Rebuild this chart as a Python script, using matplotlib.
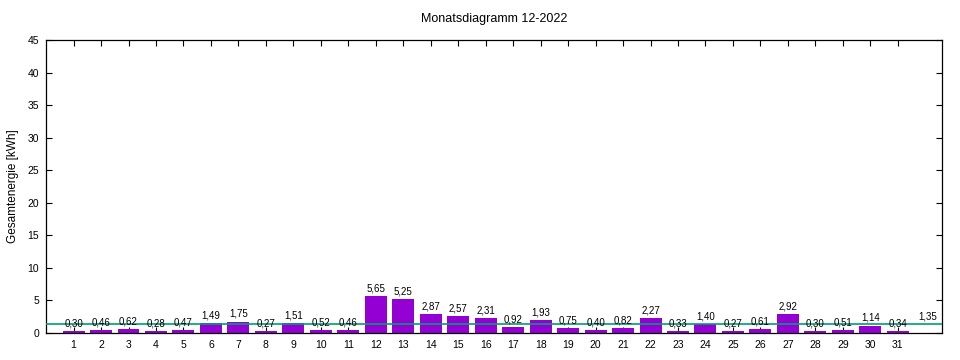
import matplotlib

matplotlib.use("Agg")
import matplotlib.pyplot as plt


TITLE = "Monatsdiagramm 12-2022"
Y_LABEL = "Gesamtenergie [kWh]"
DAYS = list(range(1, 32))
ENERGY = [
    0.30, 0.46, 0.62, 0.28, 0.47, 1.49, 1.75, 0.27, 1.51, 0.52, 0.46,
    5.65, 5.25, 2.87, 2.57, 2.31, 0.92, 1.93, 0.75, 0.40, 0.82, 2.27,
    0.33, 1.40, 0.27, 0.61, 2.92, 0.30, 0.51, 1.14, 0.34,
]
AVERAGE = 1.35


def fmt(v):
    return f"{v:.2f}".replace(".", ",")


def main():
    plt.rcParams["font.family"] = ["Liberation Sans", "DejaVu Sans"]

    fig = plt.figure(figsize=(9.6, 3.6), dpi=100)
    ax = fig.add_axes([0.048, 0.075, 0.933, 0.814])

    ax.bar(DAYS, ENERGY, width=0.8, color="#9400d3", zorder=2)
    ax.axhline(AVERAGE, color="#009e73", linewidth=1.2, zorder=3)

    for d, v in zip(DAYS, ENERGY):
        ax.text(d, v + 0.4, fmt(v), ha="center", va="bottom",
                fontsize=7, zorder=4)
    ax.text(32.1, AVERAGE + 0.4, fmt(AVERAGE), ha="center", va="bottom",
            fontsize=7)

    ax.set_xlim(0.0, 32.6)
    ax.set_ylim(0, 45)
    ax.set_xticks(DAYS)
    ax.set_yticks(range(0, 46, 5))
    ax.tick_params(direction="in", top=True, right=True, labelsize=7.5,
                   length=4, pad=5)
    for s in ax.spines.values():
        s.set_linewidth(0.9)

    ax.set_ylabel(Y_LABEL, fontsize=8.5, labelpad=6)
    ax.set_title(TITLE, fontsize=9, pad=13)

    fig.savefig("out.png", dpi=100)
    plt.close(fig)


if __name__ == "__main__":
    main()
